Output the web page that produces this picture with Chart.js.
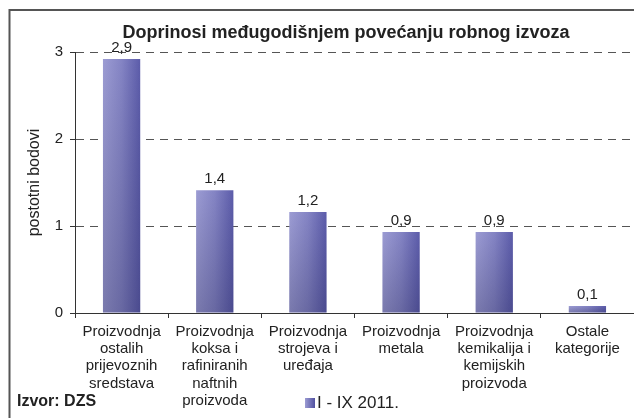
<!DOCTYPE html>
<html>
<head>
<meta charset="utf-8">
<script src="https://cdn.jsdelivr.net/npm/chart.js@4.4.0/dist/chart.umd.min.js"></script>
<style>
	html, body { margin: 0; padding: 0; background: #fff; }
	canvas { display: block; }
</style>
</head>
<body>
<canvas id="exportChart" width="634" height="418"></canvas>
<script>
// data
const categories = [
	['Proizvodnja', 'ostalih', 'prijevoznih', 'sredstava'],
	['Proizvodnja', 'koksa i', 'rafiniranih', 'naftnih', 'proizvoda'],
	['Proizvodnja', 'strojeva i', 'uređaja'],
	['Proizvodnja', 'metala'],
	['Proizvodnja', 'kemikalija i', 'kemijskih', 'proizvoda'],
	['Ostale', 'kategorije']
];
const contributions = [2.92, 1.41, 1.16, 0.93, 0.93, 0.08];
const yTicks = [0, 1, 2, 3];
const seriesName = 'I - IX 2011.';
const chartTitle = 'Doprinosi međugodišnjem povećanju robnog izvoza';
const sourceNote = 'Izvor: DZS';

const BAR_FRACTION = 0.4;
const FONT = '"Liberation Sans", Arial, sans-serif';

// horizontal gradient for each bar (light left, dark right)
function barFill(context) {
	const chart = context.chart;
	const xs = chart.scales.x;
	if (!chart.chartArea || !xs) return '#7777bb';
	const cx = xs.getPixelForValue(context.dataIndex);
	const half = xs.width / categories.length * BAR_FRACTION / 2;
	const g = chart.ctx.createLinearGradient(cx - half, 0, cx + half, 0);
	g.addColorStop(0, '#9c9cd3');
	g.addColorStop(0.5, '#8484c4');
	g.addColorStop(1, '#5c5caa');
	return g;
}

// darken bars towards the base + value labels
const barExtras = {
	id: 'barExtras',
	afterDatasetsDraw(chart) {
		const ctx = chart.ctx;
		const meta = chart.getDatasetMeta(0);
		ctx.save();
		meta.data.forEach((bar, i) => {
			const half = bar.width / 2;
			const g = ctx.createLinearGradient(0, bar.y, 0, bar.base);
			g.addColorStop(0, 'rgba(20,20,60,0)');
			g.addColorStop(1, 'rgba(20,20,60,0.25)');
			ctx.fillStyle = g;
			ctx.fillRect(bar.x - half, bar.y, bar.width, bar.base - bar.y);

			ctx.fillStyle = '#222';
			ctx.font = '15px ' + FONT;
			ctx.textAlign = 'center';
			ctx.textBaseline = 'alphabetic';
			ctx.fillText(contributions[i].toFixed(1).replace('.', ','), bar.x, bar.y - 7);
		});
		ctx.restore();
	}
};

// frame, title, source and legend
const decorations = {
	id: 'decorations',
	afterDraw(chart) {
		const ctx = chart.ctx;
		ctx.save();
		ctx.strokeStyle = '#555';
		ctx.lineWidth = 2;
		ctx.beginPath();
		ctx.moveTo(9.5, 418);
		ctx.lineTo(9.5, 10);
		ctx.lineTo(634, 10);
		ctx.stroke();

		ctx.fillStyle = '#222';
		ctx.textBaseline = 'middle';
		ctx.textAlign = 'center';
		ctx.font = 'bold 18px ' + FONT;
		ctx.fillText(chartTitle, 346, 33);

		ctx.textAlign = 'left';
		ctx.font = 'bold 16px ' + FONT;
		ctx.fillText(sourceNote, 17, 402);

		const g = ctx.createLinearGradient(305, 0, 315, 0);
		g.addColorStop(0, '#9c9cd3');
		g.addColorStop(1, '#5050a0');
		ctx.fillStyle = g;
		ctx.fillRect(305, 398, 10, 10);
		ctx.fillStyle = '#222';
		ctx.font = '17px ' + FONT;
		ctx.fillText(seriesName, 317, 403);
		ctx.restore();
	}
};

new Chart(document.getElementById('exportChart'), {
	type: 'bar',
	data: {
		labels: categories,
		datasets: [{
			label: seriesName,
			data: contributions,
			backgroundColor: barFill,
			borderWidth: 0,
			categoryPercentage: 1,
			barPercentage: BAR_FRACTION
		}]
	},
	options: {
		responsive: false,
		animation: false,
		layout: { padding: { top: 52, left: 0, right: 0, bottom: 0 } },
		plugins: {
			legend: { display: false },
			tooltip: { enabled: false }
		},
		scales: {
			x: {
				afterFit: s => { s.height = 105; },
				grid: {
					display: true,
					drawOnChartArea: false,
					offset: true,
					tickLength: 5,
					color: '#333'
				},
				border: { display: true, color: '#333', width: 1 },
				ticks: {
					color: '#222',
					padding: 5,
					maxRotation: 0,
					autoSkip: false,
					font: { family: FONT, size: 15, lineHeight: 1.15 }
				}
			},
			y: {
				min: 0,
				max: 3,
				afterFit: s => { s.width = 75; },
				afterBuildTicks: s => { s.ticks = yTicks.map(v => ({ value: v })); },
				grid: {
					color: c => (c.tick && c.tick.value === 0) ? 'rgba(0,0,0,0)' : '#555',
					tickLength: 5,
					tickColor: '#333',
					tickBorderDash: []
				},
				// in v4 border.dash is the dash of the grid lines
				border: { display: true, color: '#333', width: 1, dash: [8, 6] },
				ticks: {
					color: '#222',
					padding: 7,
					font: { family: FONT, size: 15 }
				},
				title: {
					display: true,
					text: 'postotni bodovi',
					color: '#222',
					padding: { top: 25, bottom: 0 },
					font: { family: FONT, size: 16 }
				}
			}
		}
	},
	plugins: [barExtras, decorations]
});
</script>
</body>
</html>
